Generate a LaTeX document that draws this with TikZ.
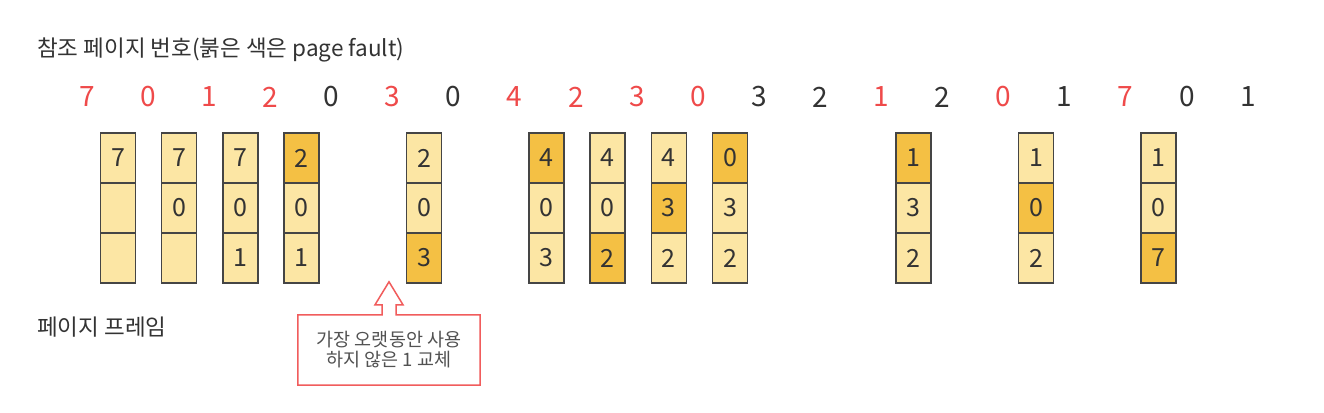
\documentclass[tikz,border=0pt]{standalone}
\usepackage{fontspec}
\setmainfont{Noto Sans CJK KR}
\usepackage{xcolor}
\definecolor{framelite}{HTML}{FCE6A4}
\definecolor{framedark}{HTML}{F4C044}
\definecolor{framegray}{HTML}{454545}
\definecolor{faultred}{HTML}{EF4A4A}
\definecolor{textgray}{HTML}{333333}
\newcommand{\framecol}[5]{
% One column of page frames, drawn under slot #1 of the reference string,
% the three cells hold #2, #3 and #4 from top to bottom,
% the cell number #5 is the one just replaced (0 if none), so it gets the dark fill
\begin{scope}[shift={(118+61.2*#1, 158)}]
	\tikzset{c1/.style={cell}, c2/.style={cell}, c3/.style={cell},
	  c#5/.style={cell, fill=framedark}}
	\node[c1] (f#1a) at (0, 0) {#2};
	\node[c2] (f#1b) at (0, 50) {#3};
	\node[c3] (f#1c) at (0, 100) {#4};
\end{scope}
}

\begin{document}
\begin{tikzpicture}[x=1pt, y=-1pt,
	cell/.style={draw=framegray, line width=1.5pt, fill=framelite,
	  minimum width=35, minimum height=50, inner sep=0pt,
	  text=textgray, font=\fontsize{25}{25}\selectfont},
	fault/.style={text=faultred, font=\fontsize{28}{28}\selectfont},
	hit/.style={text=textgray, font=\fontsize{28}{28}\selectfont},
	caption/.style={anchor=west, inner sep=0pt, text=textgray,
	  font=\fontsize{22.5}{22.5}\selectfont},
	note/.style={minimum width=182, minimum height=70, align=center,
	  text=textgray!85, font=\fontsize{18.5}{20}\selectfont},
	calloutline/.style={draw=faultred!90, line width=1.5pt, line join=miter}]
\fill[white] (0, 0) rectangle (1324, 412);
\useasboundingbox (0, 0) rectangle (1324, 412);

\node[caption] (title) at (37, 50) {참조 페이지 번호(붉은 색은 page fault)};

% reference string, red ones cause a page fault
\foreach \v/\s [count=\i from 0] in {7/fault, 0/fault, 1/fault, 2/fault, 0/hit,
  3/fault, 0/hit, 4/fault, 2/fault, 3/fault, 0/fault, 3/hit, 2/hit, 1/fault,
  2/hit, 0/fault, 1/hit, 7/fault, 0/hit, 1/hit}
	\node[\s] (r\i) at ({87+61.1*\i}, 97) {\v};

\framecol{0}{7}{}{}{0}
\framecol{1}{7}{0}{}{0}
\framecol{2}{7}{0}{1}{0}
\framecol{3}{2}{0}{1}{1}
\framecol{5}{2}{0}{3}{3}
\framecol{7}{4}{0}{3}{1}
\framecol{8}{4}{0}{2}{3}
\framecol{9}{4}{3}{2}{2}
\framecol{10}{0}{3}{2}{1}
\framecol{13}{1}{3}{2}{1}
\framecol{15}{1}{0}{2}{2}
\framecol{17}{1}{0}{7}{3}

\node[caption] (framelabel) at (37, 327) {페이지 프레임};

% callout box with an arrow on top
\node[note] (note) at (389, 350) {가장 오랫동안 사용\\하지 않은 1 교체};
\draw[calloutline] (note.north west) -- ([xshift=-7]note.north) -- ++(0, -10)
  -- ++(-7, 0) -- ++(14, -23) -- ++(14, 23) -- ++(-7, 0) -- ++(0, 10)
  -- (note.north east) -- (note.south east) -- (note.south west) -- cycle;
\end{tikzpicture}
\end{document}
